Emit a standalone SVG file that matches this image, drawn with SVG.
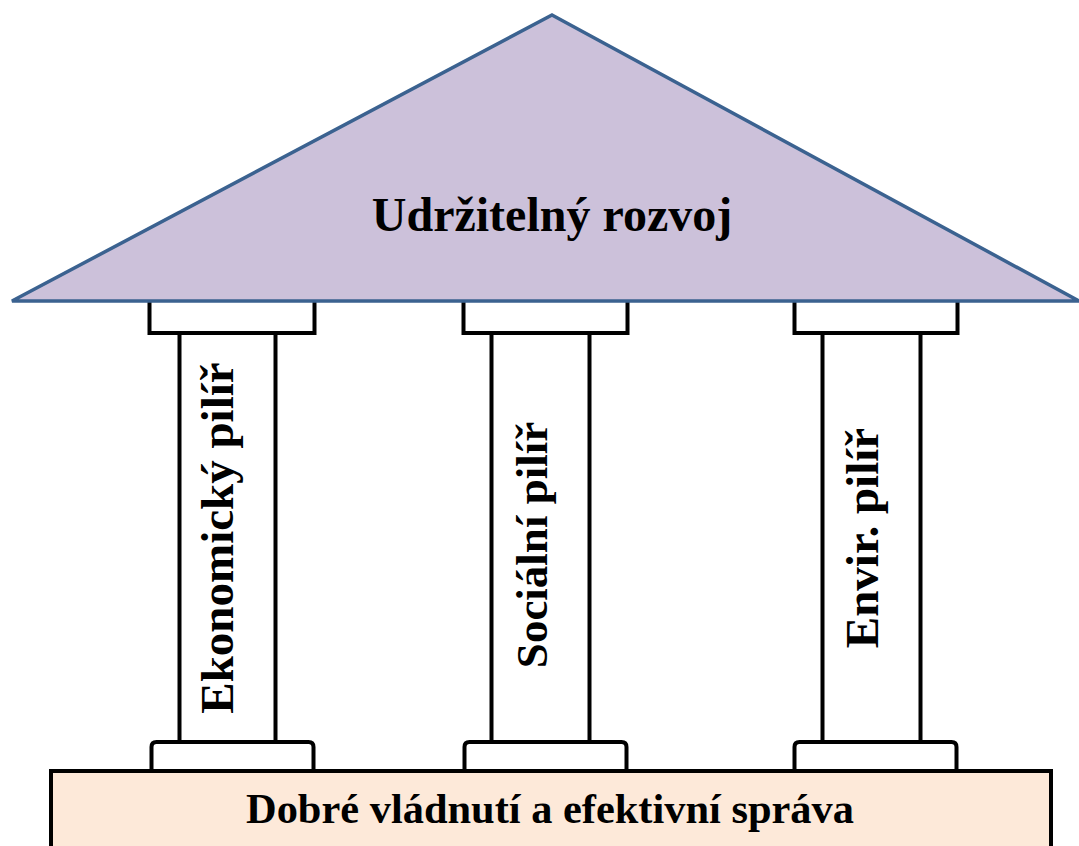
<svg xmlns="http://www.w3.org/2000/svg" width="1079" height="846" viewBox="0 0 1079 846">
  <style>
    .part { fill: #ffffff; stroke: #000000; stroke-width: 4; }
    .roof { fill: #CCC1DA; stroke: #3B6290; stroke-width: 3.5; stroke-linejoin: miter; }
    .base { fill: #FDE9D9; stroke: #000000; stroke-width: 4; }
    .label { font-family: "Liberation Serif", "Times New Roman", serif; font-weight: bold; fill: #000000; text-anchor: middle; }
  </style>
  <rect width="1079" height="846" fill="#ffffff"/>

  <!-- Left pillar -->
  <g id="pillar-economic">
    <rect class="part" x="179.5" y="333" width="96" height="409"/>
    <rect class="part" x="149.5" y="298" width="165" height="35"/>
    <path class="part" d="M151.5 771 V747 Q151.5 742 156.5 742 H308.5 Q313.5 742 313.5 747 V771"/>
    <text class="label" font-size="47" transform="translate(233 538) rotate(-90)">Ekonomický pilíř</text>
  </g>

  <!-- Middle pillar -->
  <g id="pillar-social">
    <rect class="part" x="491.5" y="333" width="98" height="409"/>
    <rect class="part" x="463.5" y="298" width="164" height="35"/>
    <path class="part" d="M464.5 771 V747 Q464.5 742 469.5 742 H621.5 Q626.5 742 626.5 747 V771"/>
    <text class="label" font-size="45" transform="translate(547 545) rotate(-90)">Sociální pilíř</text>
  </g>

  <!-- Right pillar -->
  <g id="pillar-environmental">
    <rect class="part" x="822.5" y="333" width="98" height="409"/>
    <rect class="part" x="794.5" y="298" width="163" height="35"/>
    <path class="part" d="M794.5 771 V747 Q794.5 742 799.5 742 H951.5 Q956.5 742 956.5 747 V771"/>
    <text class="label" font-size="47" transform="translate(878 538) rotate(-90)">Envir. pilíř</text>
  </g>

  <!-- Roof -->
  <g id="roof">
    <polygon class="roof" points="552,15 1079,301 12,301"/>
    <text class="label" font-size="48" x="552" y="231">Udržitelný rozvoj</text>
  </g>

  <!-- Foundation -->
  <g id="foundation">
    <rect class="base" x="51" y="771" width="1000" height="90"/>
    <text class="label" font-size="42" x="550" y="823" textLength="608" lengthAdjust="spacingAndGlyphs">Dobré vládnutí a efektivní správa</text>
  </g>

  <g id="connectors"/>
</svg>
